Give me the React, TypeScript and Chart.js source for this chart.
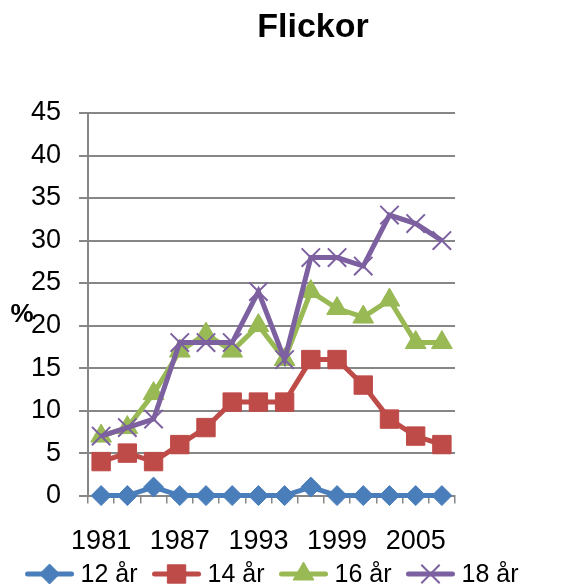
import React, { useEffect, useRef } from 'react';
import { Chart, registerables } from 'chart.js';
import { drawPoint } from 'chart.js/helpers';

Chart.register(...registerables);

const years = ['1981', '1983', '1985', '1987', '1989', '1991', '1993', '1995', '1997', '1999', '2001', '2003', '2005', '2007'];
const labelledYears = ['1981', '1987', '1993', '1999', '2005'];
const seriesNames = ['12 år', '14 år', '16 år', '18 år'];
const age12 = [0, 0, 1, 0, 0, 0, 0, 0, 1, 0, 0, 0, 0, 0];
const age14 = [4, 5, 4, 6, 8, 11, 11, 11, 16, 16, 13, 9, 7, 6];
const age16 = [7, 8, 12, 17, 19, 17, 20, 16, 24, 22, 21, 23, 18, 18];
const age18 = [7, 8, 9, 18, 18, 18, 24, 16, 28, 28, 27, 33, 32, 30];
const yMin = 0;
const yMax = 45;
const yStep = 5;
const chartTitle = 'Flickor';
const yTitle = '%';

const FONT = '"Liberation Sans", Arial, sans-serif';

const seriesStyles = [
  { color: '#4A7EBB', pointStyle: 'rectRot', radius: 10, pointBorderWidth: 1 },
  { color: '#BE4B48', pointStyle: 'rect', radius: 13, pointBorderWidth: 1 },
  { color: '#98B954', pointStyle: 'triangle', radius: 12, pointBorderWidth: 1 },
  { color: '#7D60A0', pointStyle: 'crossRot', radius: 13, pointBorderWidth: 2 },
];

const decorations = {
  id: 'decorations',
  afterDraw(chart: any) {
    const ctx = chart.ctx as CanvasRenderingContext2D;
    const area = chart.chartArea;
    ctx.save();
    ctx.fillStyle = '#000';
    ctx.textAlign = 'center';
    ctx.textBaseline = 'middle';
    ctx.font = `bold 34px ${FONT}`;
    ctx.fillText(chartTitle, 313, 28);
    ctx.font = `bold 26px ${FONT}`;
    ctx.fillText(yTitle, 22, 315);

    // legend
    ctx.font = `25px ${FONT}`;
    const lineW = 50;
    const gap = 6;
    const spacing = 14;
    const datasets = chart.data.datasets;
    const widths = datasets.map((d: any) => lineW + gap + ctx.measureText(d.label).width);
    const total = widths.reduce((a: number, b: number) => a + b, 0) + spacing * (datasets.length - 1);
    let x = (area.left + area.right) / 2 - total / 2;
    const y = 574;
    datasets.forEach((d: any, i: number) => {
      const st = seriesStyles[i];
      ctx.strokeStyle = st.color;
      ctx.fillStyle = st.color;
      ctx.lineWidth = 5;
      ctx.lineCap = 'round';
      ctx.beginPath();
      ctx.moveTo(x + 3, y);
      ctx.lineTo(x + lineW - 3, y);
      ctx.stroke();
      ctx.lineWidth = st.pointBorderWidth;
      ctx.lineCap = 'butt';
      drawPoint(ctx, { pointStyle: st.pointStyle as any, radius: st.radius, rotation: 0, borderWidth: st.pointBorderWidth }, x + lineW / 2, y);
      ctx.fillStyle = '#000';
      ctx.textAlign = 'left';
      ctx.fillText(d.label, x + lineW + gap, y + 1);
      x += widths[i] + spacing;
    });
    ctx.restore();
  },
};

export default function App() {
  const canvasRef = useRef<HTMLCanvasElement | null>(null);

  useEffect(() => {
    const canvas = canvasRef.current;
    if (!canvas) return;
    const seriesData = [age12, age14, age16, age18];
    const chart = new Chart(canvas, {
      type: 'line',
      data: {
        labels: years,
        datasets: seriesData.map((values, i) => ({
          label: seriesNames[i],
          data: values,
          borderColor: seriesStyles[i].color,
          backgroundColor: seriesStyles[i].color,
          borderWidth: 5,
          pointStyle: seriesStyles[i].pointStyle as any,
          pointRadius: seriesStyles[i].radius,
          pointBorderWidth: seriesStyles[i].pointBorderWidth,
          pointBackgroundColor: seriesStyles[i].color,
          pointBorderColor: seriesStyles[i].color,
          tension: 0,
          clip: false as any,
          order: seriesData.length - 1 - i,
        })),
      },
      options: {
        animation: false,
        responsive: true,
        maintainAspectRatio: false,
        layout: { padding: { top: 113, left: 13, right: 109, bottom: 5 } },
        plugins: {
          legend: { display: false },
          title: { display: false },
          tooltip: { enabled: false },
        },
        scales: {
          x: {
            type: 'category',
            offset: true,
            grid: {
              offset: true,
              drawOnChartArea: false,
              drawTicks: true,
              tickLength: 8,
              color: '#868686',
              lineWidth: 1.5,
            },
            border: { color: '#868686', width: 2 },
            ticks: {
              autoSkip: false,
              maxRotation: 0,
              minRotation: 0,
              padding: 22,
              color: '#000',
              font: { family: FONT, size: 27 },
              callback: (_v: any, idx: number) => (labelledYears.includes(years[idx]) ? years[idx] : ''),
            },
          },
          y: {
            min: yMin,
            max: yMax,
            grid: {
              color: '#868686',
              lineWidth: 2,
              tickLength: 9,
              drawTicks: true,
            },
            border: { color: '#868686', width: 2 },
            ticks: {
              stepSize: yStep,
              padding: 18,
              color: '#000',
              font: { family: FONT, size: 27 },
            },
          },
        },
      },
      plugins: [decorations],
    });
    return () => chart.destroy();
  }, []);

  return (
    <div style={{ position: 'fixed', left: 0, top: 0, width: 564, height: 585, background: '#fff' }}>
      <canvas ref={canvasRef} />
    </div>
  );
}
